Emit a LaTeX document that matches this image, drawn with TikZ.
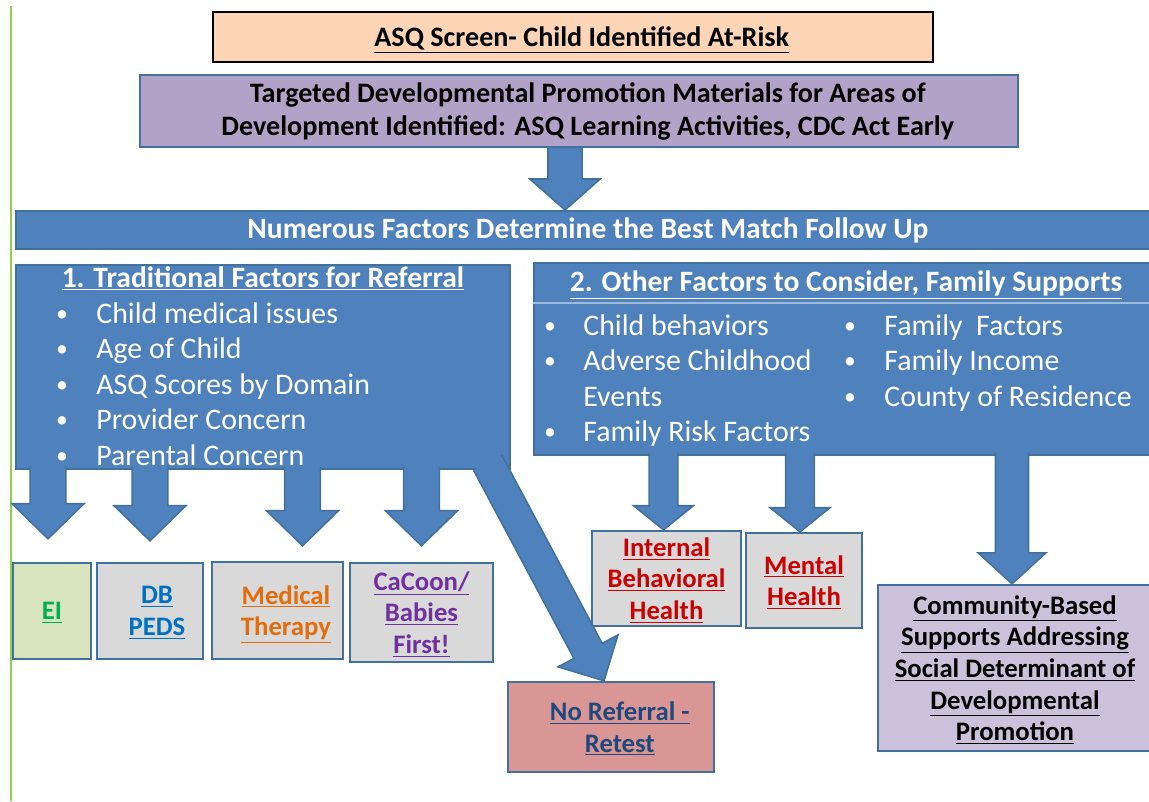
\documentclass[tikz,border=0pt]{standalone}
\usepackage{fontspec}
\setmainfont{Carlito}
\usetikzlibrary{calc}

\definecolor{panelblue}{RGB}{79,129,189}
\definecolor{edgeblue}{RGB}{65,113,156}
\definecolor{peach}{RGB}{251,213,181}
\definecolor{lilac}{RGB}{179,162,199}
\definecolor{palelilac}{RGB}{204,193,218}
\definecolor{boxgray}{RGB}{217,217,217}
\definecolor{palegreen}{RGB}{215,228,189}
\definecolor{rose}{RGB}{218,150,148}
\definecolor{eigreen}{RGB}{0,176,80}
\definecolor{pedsblue}{RGB}{0,112,192}
\definecolor{medorange}{RGB}{228,108,10}
\definecolor{cacoonpurple}{RGB}{112,48,160}
\definecolor{healthred}{RGB}{204,0,0}
\definecolor{norefblue}{RGB}{31,73,125}
\definecolor{slidegreen}{RGB}{146,208,80}

\newcommand{\uln}[1]{\underline{#1}}

% block arrow: from, to, half shaft, half head, head length
\newcommand{\blockarrow}[5]{%
  \coordinate (ba-s) at (#1);
  \coordinate (ba-e) at (#2);
  \coordinate (ba-c) at ($(ba-e)!#5!(ba-s)$);
  \fill[arrowbody] ($(ba-s)!#3!90:(ba-e)$) -- ($(ba-c)!#3!90:(ba-e)$) -- ($(ba-c)!#4!90:(ba-e)$) -- (ba-e)
    -- ($(ba-c)!#4!-90:(ba-e)$) -- ($(ba-c)!#3!-90:(ba-e)$) -- ($(ba-s)!#3!-90:(ba-e)$) -- cycle;
  \draw[arrowedge] ($(ba-s)!#3!90:(ba-e)$) -- ($(ba-c)!#3!90:(ba-e)$) -- ($(ba-c)!#4!90:(ba-e)$) -- (ba-e)
    -- ($(ba-c)!#4!-90:(ba-e)$) -- ($(ba-c)!#3!-90:(ba-e)$) -- ($(ba-s)!#3!-90:(ba-e)$);
}

\begin{document}
\begin{tikzpicture}[x=0.02cm, y=-0.02cm,
  panel/.style={fill=panelblue, draw=edgeblue, line width=0.8pt, inner sep=0pt},
  head/.style={text=white, font=\bfseries\fontsize{16.8}{20}\selectfont, anchor=base, inner sep=0pt},
  bul/.style={text=white, font=\fontsize{17}{20}\selectfont, anchor=base west, inner sep=0pt},
  dot/.style={text=white, font=\fontsize{13.5}{14}\selectfont, anchor=base, inner sep=0pt},
  outbox/.style={draw=edgeblue, line width=1.4pt, inner sep=0pt, align=center, text depth=-2pt,
    font=\bfseries\fontsize{15.2}{18}\selectfont},
  arrowbody/.style={fill=panelblue},
  arrowedge/.style={draw=edgeblue, line width=0.9pt, line join=miter}]
\useasboundingbox (0,0) rectangle (1149,801);
\clip (0,0) rectangle (1149,801);
\fill[white] (0,0) rectangle (1149,801);
\draw[slidegreen, line width=1pt] (11,6) -- (11,801);

% top of the chart
\node[draw=black, line width=1.6pt, fill=peach, minimum width=14.4cm, minimum height=1cm,
  text height=11pt, text depth=0pt, font=\bfseries\fontsize{16}{19}\selectfont] (asq) at (573,37)
  {\hspace*{10pt}\uln{ASQ Screen- Child Identified At-Risk}};
\node[draw=edgeblue, line width=1.4pt, fill=lilac, minimum width=17.56cm, minimum height=1.44cm,
  text height=28.4pt, text depth=0pt, align=center, font=\bfseries\fontsize{16}{19}\selectfont] (promo) at (579,111)
  {\hspace*{10pt}Targeted Developmental Promotion Materials for Areas of\\
   \hspace*{10pt}Development Identified: ASQ Learning Activities, CDC Act Early};
\node[panel, line width=1.2pt, minimum width=22.72cm, minimum height=0.76cm, text=white,
  text height=10.2pt, text depth=0pt, font=\bfseries\fontsize{16.8}{20}\selectfont] (band) at (584,230)
  {\hspace*{4.5pt}Numerous Factors Determine the Best Match Follow Up};

% the two panels
\node[panel, minimum width=9.88cm, minimum height=4.08cm] (trad) at (263,367) {};
\node[panel, minimum width=12.36cm, minimum height=3.84cm] (other) at (843,359) {};
\draw[white!45!panelblue, line width=1pt] ($(other.north west)+(0,41)$) -- ($(other.north east)+(0,41)$);

% where the child goes
\node[outbox, fill=palegreen, text=eigreen, minimum width=1.56cm, minimum height=1.92cm] (ei) at (52,611) {\uln{EI}};
\node[outbox, fill=boxgray, text=pedsblue, minimum width=2.12cm, minimum height=1.92cm] (peds) at (150,611)
  {\hspace*{8pt}\uln{DB}\\\hspace*{8pt}\uln{PEDS}};
\node[outbox, fill=boxgray, text=medorange, minimum width=2.62cm, minimum height=1.94cm] (medical) at (277.5,610.5)
  {\hspace*{9.6pt}\uln{Medical}\\\hspace*{9.6pt}\uln{Therapy}};
\node[outbox, fill=boxgray, text=cacoonpurple, minimum width=2.86cm, minimum height=1.98cm] (cacoon) at (421.5,612.5)
  {\uln{CaCoon/}\\\uln{Babies}\\\uln{First!}};
\node[outbox, fill=rose, text=norefblue, minimum width=4.12cm, minimum height=1.8cm] (noref) at (611,727)
  {\hspace*{10pt}\uln{No Referral -}\\\hspace*{10pt}\uln{Retest}};
\node[outbox, fill=boxgray, text=healthred, minimum width=2.98cm, minimum height=1.9cm] (ibh) at (666.5,578.5)
  {\uln{Internal}\\\uln{Behavioral}\\\uln{Health}};
\node[outbox, fill=boxgray, text=healthred, minimum width=2.32cm, minimum height=1.9cm] (mental) at (804,580.5)
  {\uln{Mental}\\\uln{Health}};
\node[outbox, fill=palelilac, text=black, minimum width=5.48cm, minimum height=3.32cm] (community) at (1015,668)
  {\uln{Community-Based}\\\uln{Supports Addressing}\\\uln{Social Determinant of}\\\uln{Developmental}\\\uln{Promotion}};

% arrows
\blockarrow{$(promo.south)+(-14,0)$}{$(band.north)+(-19,0)$}{9.7pt}{20pt}{17.6pt}
\blockarrow{$(ei.north |- trad.south)+(-4,-3)$}{$(ei.north)+(-4,-23)$}{10.2pt}{20.5pt}{20pt}
\blockarrow{$(peds.north |- trad.south)+(0,-3)$}{$(peds.north)+(0,-21)$}{10.2pt}{20.5pt}{20pt}
\blockarrow{$(medical.north |- trad.south)+(25,-3)$}{$(medical.north)+(25,-15)$}{10.2pt}{20.5pt}{20pt}
\blockarrow{$(cacoon.north |- trad.south)+(0,-3)$}{$(cacoon.north)+(0,-16)$}{10.2pt}{20.5pt}{20pt}
\blockarrow{$(trad.south east)+(-23,-7)$}{$(noref.north)+(-7,0)$}{9.1pt}{19.3pt}{19.3pt}
\blockarrow{$(ibh.north |- other.south)+(-3,-3)$}{$(ibh.north)+(-3,0)$}{8.2pt}{17pt}{13.7pt}
\blockarrow{$(mental.north |- other.south)+(-4,-3)$}{$(mental.north)+(-4,0)$}{8.2pt}{17pt}{13.7pt}
\blockarrow{$(community.north |- other.south)+(-3,-3)$}{$(community.north)+(-3,0)$}{9.4pt}{19.3pt}{17.6pt}

% panel texts
\node[head] (tradtitle) at (263,287) {\uln{1. Traditional Factors for Referral}};
\foreach \txt [count=\i] in {Child medical issues, Age of Child, ASQ Scores by Domain, Provider Concern, Parental Concern}{
  \node[dot] (td\i) at (62,287.5+35.5*\i) {\raisebox{1pt}{•}};
  \node[bul] (tb\i) at (96,287.5+35.5*\i) {\txt};
}
\node[head] (othertitle) at (846,291) {\uln{2. Other Factors to Consider, Family Supports}};
\foreach \y/\txt [count=\i] in {335/Child behaviors, 370.5/Adverse Childhood, 441.5/Family Risk Factors}{
  \node[dot] (od\i) at (550,\y) {\raisebox{1pt}{•}};
  \node[bul] (ob\i) at (583,\y) {\txt};
}
\node[bul] (events) at (583,406) {Events};
\foreach \y/\txt [count=\i] in {335/Family\ \ Factors, 370.5/Family Income, 406/County of Residence}{
  \node[dot] (fd\i) at (850,\y) {\raisebox{1pt}{•}};
  \node[bul] (fb\i) at (884,\y) {\txt};
}
\end{tikzpicture}
\end{document}
